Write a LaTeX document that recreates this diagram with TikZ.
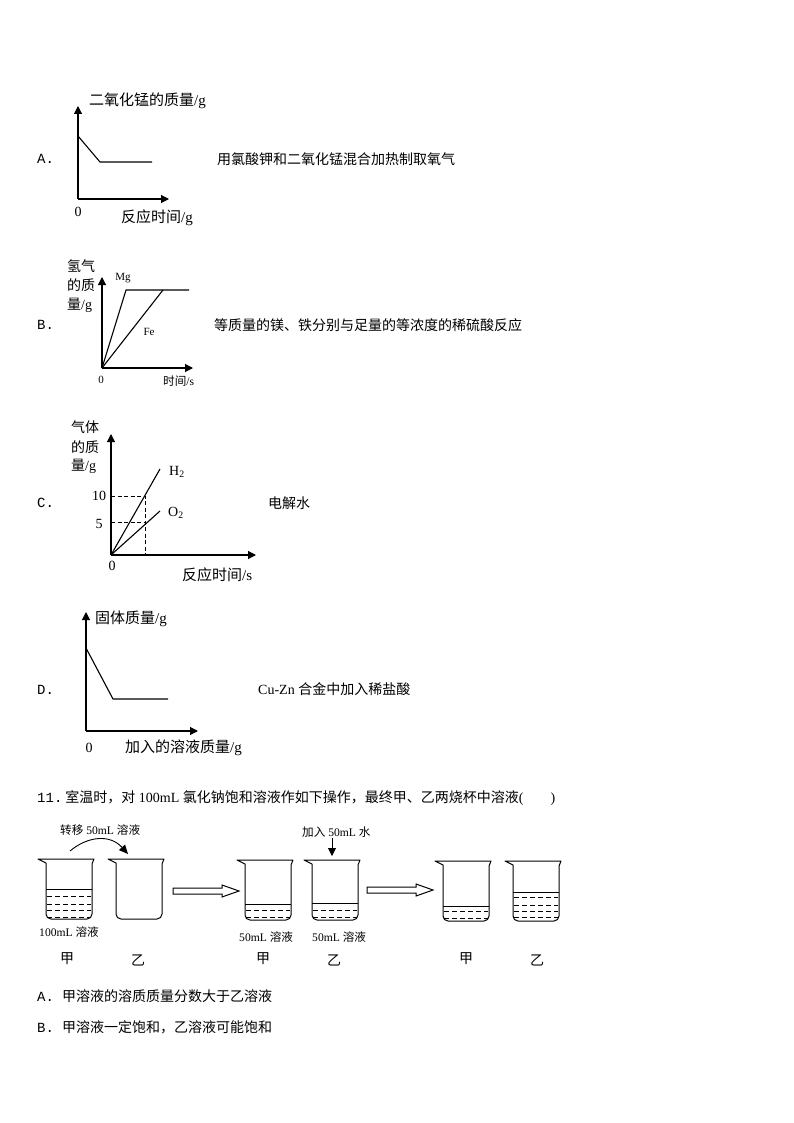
\documentclass[tikz,border=0pt]{standalone}
\usepackage{fontspec}
\setmainfont{Liberation Serif}
\setmonofont{Liberation Mono}
\newfontfamily\cjk{Noto Sans CJK SC}
\usetikzlibrary{arrows.meta}
\tikzset{
    txt/.style={inner sep=0pt, anchor=west, font=\fontsize{14}{14}\selectfont},
    ttl/.style={inner sep=0pt, anchor=west, font=\fontsize{15}{15}\selectfont},
    sml/.style={inner sep=0pt, anchor=west, font=\fontsize{11.6}{12}\selectfont},
    tiny/.style={inner sep=0pt, font=\fontsize{11}{11}\selectfont},
    mid/.style={inner sep=0pt, font=\fontsize{14}{14}\selectfont},
    axis/.style={-{Stealth[length=8pt,width=8pt,inset=0pt]}, line width=1.1pt},
    curve/.style={line width=1.1pt, line join=round},
    guide/.style={line width=0.9pt, dash pattern=on 4pt off 2.5pt},
    block/.style={draw, fill=white, line width=1pt, line join=miter},
}
% beaker: left x, rim y
\newcommand{\beaker}[2]{
    \draw [line width=1pt, line join=round] (#1,#2) -- (#1+56,#2) -- (#1+54,#2+5)
        [rounded corners=5pt] -- (#1+54,#2+60) -- (#1+8,#2+60) [sharp corners] -- (#1+8,#2+4) -- cycle;
}
% liquid: left x, rim y, level, dash lines
\newcommand{\liquid}[4]{
    \draw [line width=1pt] (#1+8,#2+#3) -- (#1+54,#2+#3);
    \foreach \d in {#4}
        \draw [line width=0.8pt, dash pattern=on 5pt off 3pt] (#1+9,#2+\d) -- (#1+53,#2+\d);
}
% hollow arrow: left x, centre y
\newcommand{\blockarrow}[2]{
    \draw [block] (#1,#2-3) -- (#1+49,#2-3) -- (#1+49,#2-6) -- (#1+66,#2) -- (#1+49,#2+6) -- (#1+49,#2+3) -- (#1,#2+3) -- cycle;
}

\begin{document}
\begin{tikzpicture}[x=1pt, y=-1pt]
    \useasboundingbox (0,0) rectangle (794,1123);
    \fill [white] (0,0) rectangle (794,1123);

    % A
    \coordinate (Ao) at (78,199);
    \coordinate (Ay) at (78,106);
    \coordinate (Ax) at (169,199);
    \draw [axis] (Ao) -- (Ay);
    \draw [axis] (Ao) -- (Ax);
    \coordinate (A1) at (78,136);
    \coordinate (A2) at (100,162);
    \coordinate (A3) at (152,162);
    \draw [curve] (A1) -- (A2) -- (A3);
    \node [txt] (Aname) at (37,159) {\ttfamily A.};
    \node [ttl] (Aytitle) at (89,101) {{\cjk 二氧化锰的质量}/g};
    \node [mid] (Azero) at (78,212) {0};
    \node [ttl] (Axtitle) at (121,218) {{\cjk 反应时间}/g};
    \node [txt] (Atext) at (217,159) {\cjk 用氯酸钾和二氧化锰混合加热制取氧气};

    % B
    \coordinate (Bo) at (102,368);
    \coordinate (By) at (102,277);
    \coordinate (Bx) at (193,368);
    \draw [axis] (Bo) -- (By);
    \draw [axis] (Bo) -- (Bx);
    \coordinate (B1) at (126,290);
    \coordinate (B2) at (163,290);
    \coordinate (B3) at (189,290);
    \draw [curve] (Bo) -- (B1) -- (B3);
    \draw [curve] (Bo) -- (B2);
    \node [txt] (Bname) at (37,325) {\ttfamily B.};
    \node [txt] (Bya) at (67,266) {\cjk 氢气};
    \node [txt] (Byb) at (67,285) {\cjk 的质};
    \node [txt] (Byc) at (67,305) {{\cjk 量}/g};
    \node [tiny] (Bmg) at (123,278) {Mg};
    \node [tiny] (Bfe) at (149,332) {Fe};
    \node [tiny] (Bzero) at (101,380) {0};
    \node [sml] (Bxtitle) at (163,381) {{\cjk 时间}/s};
    \node [txt] (Btext) at (214,325) {\cjk 等质量的镁、铁分别与足量的等浓度的稀硫酸反应};

    % C
    \coordinate (Co) at (111,555);
    \coordinate (Cy) at (111,434);
    \coordinate (Cx) at (256,555);
    \draw [axis] (Co) -- (Cy);
    \draw [axis] (Co) -- (Cx);
    \coordinate (Chy) at (160,469);
    \coordinate (Cox) at (160,511);
    \draw [curve] (Co) -- (Chy);
    \draw [curve] (Co) -- (Cox);
    \coordinate (Cten) at (111,496);
    \coordinate (Cfive) at (111,522);
    \coordinate (Cup) at (145,496);
    \coordinate (Cmid) at (145,522);
    \coordinate (Cfoot) at (145,555);
    \draw [guide] (Cten) -- (Cup) -- (Cfoot);
    \draw [guide] (Cfive) -- (Cmid);
    \node [txt] (Cname) at (37,503) {\ttfamily C.};
    \node [txt] (Cya) at (71,427) {\cjk 气体};
    \node [txt] (Cyb) at (71,447) {\cjk 的质};
    \node [txt] (Cyc) at (71,466) {{\cjk 量}/g};
    \node [txt] (Chtwo) at (169,472) {H\textsubscript{2}};
    \node [txt] (Cotwo) at (168,513) {O\textsubscript{2}};
    \node [mid] (Clabten) at (99,496) {10};
    \node [mid] (Clabfive) at (99,524) {5};
    \node [mid] (Czero) at (112,566) {0};
    \node [ttl] (Cxtitle) at (182,575) {{\cjk 反应时间}/s};
    \node [txt] (Ctext) at (268,503) {\cjk 电解水};

    % D
    \coordinate (Do) at (86,731);
    \coordinate (Dy) at (86,612);
    \coordinate (Dx) at (198,731);
    \draw [axis] (Do) -- (Dy);
    \draw [axis] (Do) -- (Dx);
    \coordinate (D1) at (86,648);
    \coordinate (D2) at (113,699);
    \coordinate (D3) at (168,699);
    \draw [curve] (D1) -- (D2) -- (D3);
    \node [txt] (Dname) at (37,690) {\ttfamily D.};
    \node [ttl] (Dytitle) at (95,619) {{\cjk 固体质量}/g};
    \node [mid] (Dzero) at (89,748) {0};
    \node [ttl] (Dxtitle) at (125,748) {{\cjk 加入的溶液质量}/g};
    \node [txt] (Dtext) at (258,689) {Cu-Zn {\cjk 合金中加入稀盐酸}};

    % question 11
    \node [txt] (Qtext) at (37,798) {{\ttfamily 11.}\hspace{3pt}{\cjk 室温时，对} 100mL {\cjk 氯化钠饱和溶液作如下操作，最终甲、乙两烧杯中溶液}(\hspace{27pt})};

    \beaker{38}{859}
    \liquid{38}{859}{30}{37,45,51,58}
    \beaker{108}{859}
    \beaker{237}{860}
    \liquid{237}{860}{44}{50,57}
    \beaker{304}{860}
    \liquid{304}{860}{43}{50,57}
    \beaker{435}{861}
    \liquid{435}{861}{45}{50,57}
    \beaker{505}{861}
    \liquid{505}{861}{31}{36,44,50,56}

    \coordinate (Tstart) at (70,851);
    \coordinate (Tend) at (128,854);
    \draw [-{Stealth[length=9pt,width=8pt,inset=0pt]}, line width=0.9pt] (Tstart) .. controls (88,836) and (110,834) .. (Tend);
    \coordinate (Wstart) at (332,838);
    \coordinate (Wend) at (332,856);
    \draw [-{Stealth[length=8pt,width=8pt,inset=0pt]}, line width=0.9pt] (Wstart) -- (Wend);

    \blockarrow{173}{891}
    \blockarrow{367}{890}

    \node [sml] (Ttitle) at (60,830) {{\cjk 转移} 50mL {\cjk 溶液}};
    \node [sml] (Wtitle) at (302,832) {{\cjk 加入} 50mL {\cjk 水}};
    \node [sml] (Vone) at (39,932) {100mL {\cjk 溶液}};
    \node [sml] (Vtwo) at (239,937) {50mL {\cjk 溶液}};
    \node [sml] (Vthree) at (312,937) {50mL {\cjk 溶液}};

    \node [mid] (Ja) at (67,959) {\cjk 甲};
    \node [mid] (Ya) at (138,960) {\cjk 乙};
    \node [mid] (Jb) at (263,959) {\cjk 甲};
    \node [mid] (Yb) at (334,960) {\cjk 乙};
    \node [mid] (Jc) at (466,959) {\cjk 甲};
    \node [mid] (Yc) at (537,960) {\cjk 乙};

    \node [txt] (OptA) at (37,996) {{\ttfamily A.}\hspace{8pt}{\cjk 甲溶液的溶质质量分数大于乙溶液}};
    \node [txt] (OptB) at (37,1027) {{\ttfamily B.}\hspace{8pt}{\cjk 甲溶液一定饱和，乙溶液可能饱和}};
\end{tikzpicture}
\end{document}
